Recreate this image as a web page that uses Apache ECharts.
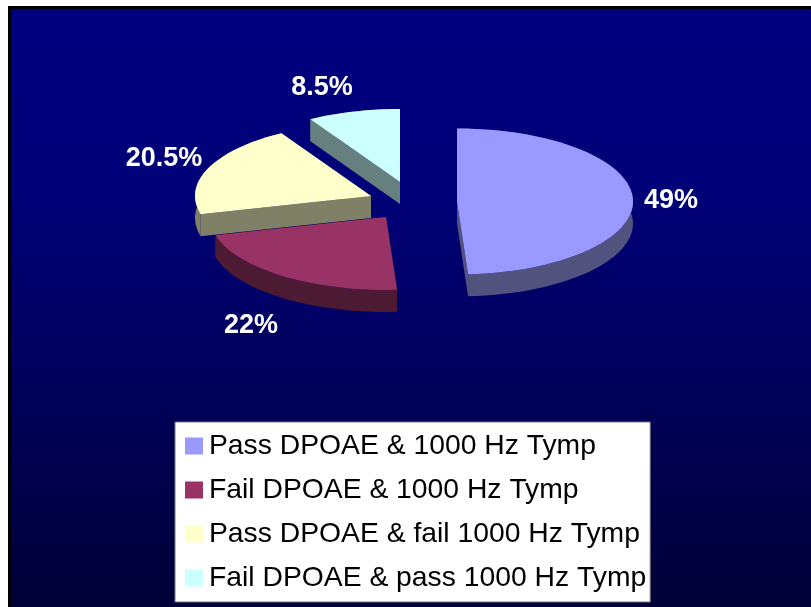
<!DOCTYPE html>
<html><head><meta charset="utf-8">
<style>html,body{margin:0;padding:0;background:#fff}#c{width:811px;height:607px}</style>
<script src="https://cdn.jsdelivr.net/npm/echarts@6/dist/echarts.min.js"></script>
</head><body><div id="c"></div>
<script>
const categories = ['Pass DPOAE & 1000 Hz Tymp','Fail DPOAE & 1000 Hz Tymp','Pass DPOAE & fail 1000 Hz Tymp','Fail DPOAE & pass 1000 Hz Tymp'];
const values = [49, 22, 20.5, 8.5];
const topColors = ['#9999FF','#993366','#FFFFCC','#CCFFFF'];
const sideColors = ['#52527F','#4D1A33','#808066','#668080'];
// layout of the exploded, tilted pie
const apexes = [[457,201.5],[386,217],[371,196],[400,182]];
const labelCenters = [[671,201],[251,326],[164,159],[322,88]];
const RX = 176, RY = 73, DEPTH = 22;

const total = values.reduce((a,b)=>a+b,0);
function startAngle(i){ let s=0; for(let k=0;k<i;k++) s+=values[k]; return s/total*360; }

function sliceRender(i){
  return function(params, api){
    const v = api.value(0);
    const a0 = startAngle(i), a1 = a0 + v/total*360;
    const [cx,cy] = apexes[i];
    const rim = [];
    const n = Math.max(2, Math.ceil((a1-a0)/3));
    for(let k=0;k<=n;k++){
      const t = (a0+(a1-a0)*k/n)*Math.PI/180;
      rim.push([cx+RX*Math.sin(t), cy-RY*Math.cos(t)]);
    }
    const drop = p => [p[0],p[1]+DEPTH];
    const apex = [cx,cy];
    const wall = pts => ({type:'polygon',shape:{points:pts},style:{fill:sideColors[i]}});
    const children = [
      wall(rim.concat(rim.map(drop).reverse())),
      wall([apex,rim[0],drop(rim[0]),drop(apex)]),
      wall([apex,rim[n],drop(rim[n]),drop(apex)]),
      {type:'polygon',shape:{points:[apex].concat(rim)},style:{fill:topColors[i]}},
      {type:'text',style:{text:v+'%',x:labelCenters[i][0],y:labelCenters[i][1],
        align:'center',verticalAlign:'middle',fill:'#fff',
        font:'bold 27px "Liberation Sans", Arial, sans-serif'}}
    ];
    return {type:'group',children};
  };
}

const chart = echarts.init(document.getElementById('c'),null,{renderer:'canvas'});
chart.setOption({
  animation:false,
  graphic:[{type:'rect',z:-10,silent:true,
    shape:{x:9.5,y:7.5,width:810,height:610},
    style:{stroke:'#000',lineWidth:3,fill:{type:'linear',x:0,y:0,x2:0,y2:1,
      colorStops:[{offset:0,color:'#000080'},{offset:0.3,color:'#000078'},{offset:1,color:'#000036'}]}}}],
  legend:{
    orient:'vertical',left:175,top:422,
    data:categories,
    icon:'rect',itemWidth:18,itemHeight:17,itemGap:16,
    padding:[10,4,10,10],
    backgroundColor:'#fff',borderColor:'#777',borderWidth:1,borderRadius:0,
    selectedMode:false,
    textStyle:{color:'#000',fontFamily:'"Liberation Sans", Arial, sans-serif',fontSize:28.3,padding:[0,0,8,1]}
  },
  series:categories.map((name,i)=>({
    type:'custom',name,coordinateSystem:'none',silent:true,
    itemStyle:{color:topColors[i]},
    renderItem:sliceRender(i),
    data:[[values[i]]]
  }))
});
</script></body></html>
